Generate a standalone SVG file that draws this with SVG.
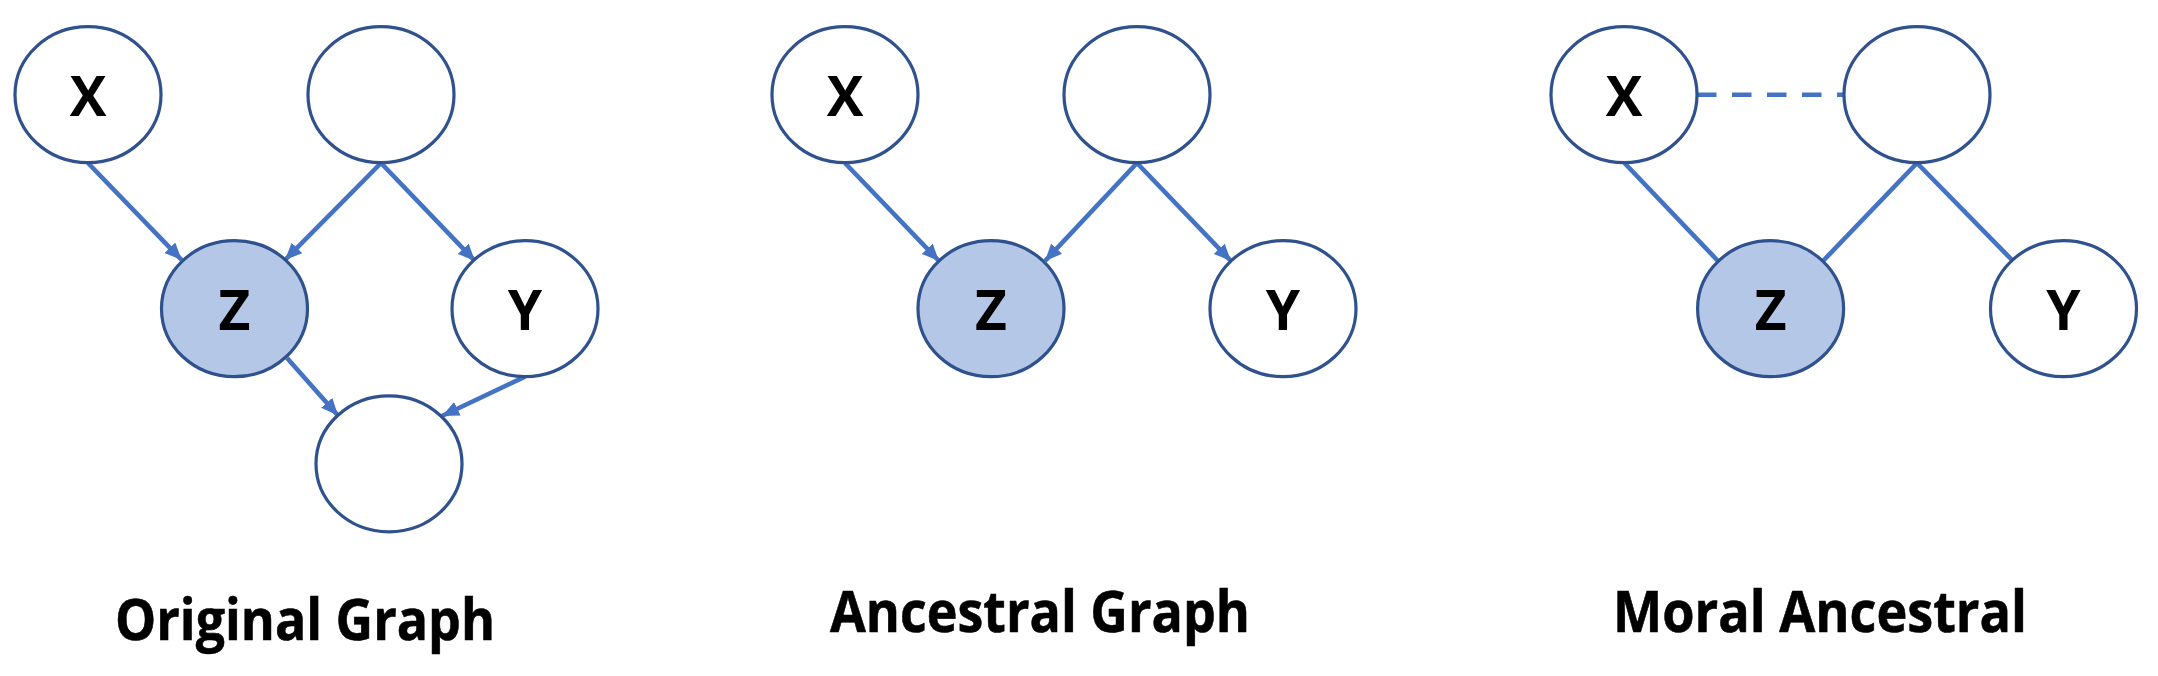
<svg xmlns="http://www.w3.org/2000/svg" width="2158" height="676" viewBox="0 0 2158 676">
<style>
.node{fill:#ffffff;stroke:#2F528F;stroke-width:3.2}
.obs{fill:#B4C7E7}
.lbl{font-family:"Open Sans","Noto Sans","Liberation Sans",sans-serif;font-weight:bold;font-size:55px;fill:#000;text-anchor:middle}
.title{font-family:"Open Sans","Noto Sans","Liberation Sans",sans-serif;font-weight:bold;font-size:57.5px;fill:#000;stroke:#000;stroke-width:0.6}
.edge{stroke:#4472C4;stroke-width:4.6;fill:none}
.arr{marker-end:url(#ah)}
.dash{stroke-dasharray:19.5 15.5}
</style>
<defs>
<marker id="ah" markerUnits="userSpaceOnUse" markerWidth="18" markerHeight="16" refX="17" refY="7.5" orient="auto">
<path d="M0,0 L17,7.5 L0,15 z" fill="#4472C4"/>
</marker>
</defs>
<rect width="2158" height="676" fill="#ffffff"/>
<g id="connectors">
<line class="edge arr" x1="88" y1="163" x2="181.7" y2="260"/>
<line class="edge arr" x1="381" y1="163" x2="285" y2="260"/>
<line class="edge arr" x1="381" y1="163" x2="475" y2="261"/>
<line class="edge arr" x1="287" y1="358" x2="338" y2="415.5"/>
<line class="edge arr" x1="525" y1="376.7" x2="442" y2="416"/>
<line class="edge arr" x1="845" y1="163" x2="939" y2="261"/>
<line class="edge arr" x1="1137" y1="163" x2="1045" y2="261"/>
<line class="edge arr" x1="1137" y1="163" x2="1231" y2="261"/>
<line class="edge" x1="1624.5" y1="163" x2="1718" y2="261"/>
<line class="edge" x1="1917" y1="163" x2="1823" y2="261"/>
<line class="edge" x1="1917" y1="163" x2="2012" y2="260"/>
<line class="edge dash" x1="1697" y1="94.7" x2="1844" y2="94.7"/>
</g>
<g id="g1-x"><ellipse class="node" cx="88" cy="94.7" rx="73" ry="68"/><text class="lbl" x="88" y="116">X</text></g>
<g id="g1-top"><ellipse class="node" cx="381" cy="94.7" rx="73" ry="68"/></g>
<g id="g1-z"><ellipse class="node obs" cx="234.5" cy="308.7" rx="73" ry="68"/><text class="lbl" x="234.5" y="330">Z</text></g>
<g id="g1-y"><ellipse class="node" cx="525" cy="308.7" rx="73" ry="68"/><text class="lbl" x="525" y="330">Y</text></g>
<g id="g1-bottom"><ellipse class="node" cx="389" cy="463.8" rx="73" ry="68"/></g>
<g id="g2-x"><ellipse class="node" cx="845" cy="94.7" rx="73" ry="68"/><text class="lbl" x="845" y="116">X</text></g>
<g id="g2-top"><ellipse class="node" cx="1137" cy="94.7" rx="73" ry="68"/></g>
<g id="g2-z"><ellipse class="node obs" cx="991" cy="308.7" rx="73" ry="68"/><text class="lbl" x="991" y="330">Z</text></g>
<g id="g2-y"><ellipse class="node" cx="1283" cy="308.7" rx="73" ry="68"/><text class="lbl" x="1283" y="330">Y</text></g>
<g id="g3-x"><ellipse class="node" cx="1624" cy="94.7" rx="73" ry="68"/><text class="lbl" x="1624" y="116">X</text></g>
<g id="g3-top"><ellipse class="node" cx="1917" cy="94.7" rx="73" ry="68"/></g>
<g id="g3-z"><ellipse class="node obs" cx="1770.6" cy="308.7" rx="73" ry="68"/><text class="lbl" x="1770.6" y="330">Z</text></g>
<g id="g3-y"><ellipse class="node" cx="2063.5" cy="308.7" rx="73" ry="68"/><text class="lbl" x="2063.5" y="330">Y</text></g>
<g id="titles">
<text class="title" x="115" y="640" textLength="380" lengthAdjust="spacingAndGlyphs">Original Graph</text>
<text class="title" x="830" y="631.7" textLength="420" lengthAdjust="spacingAndGlyphs">Ancestral Graph</text>
<text class="title" x="1613" y="631.7" textLength="414" lengthAdjust="spacingAndGlyphs">Moral Ancestral</text>
</g>
</svg>
